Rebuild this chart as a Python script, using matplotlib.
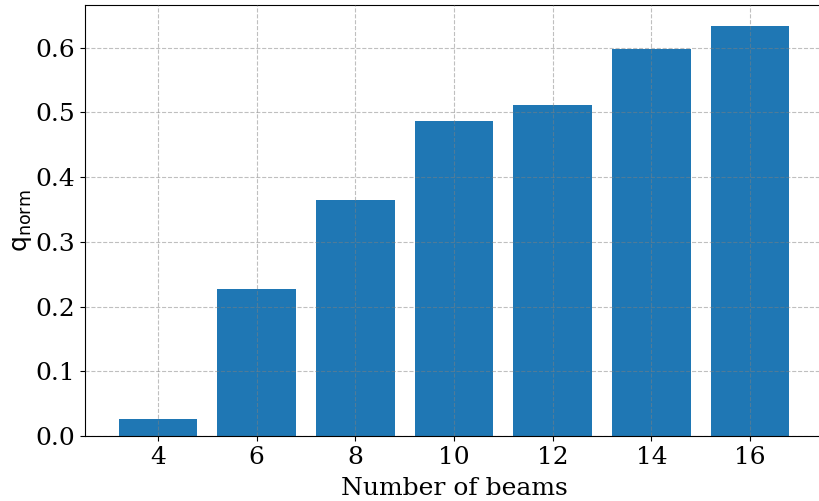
import numpy as np
import matplotlib.pyplot as plt

beams = [4, 6, 8, 10, 12, 14, 16]
q_norm = [0.026, 0.227, 0.365, 0.486, 0.512, 0.598, 0.634]

plt.rcParams['font.family'] = 'DejaVu Serif'
fig = plt.figure(figsize=(8.19, 5.01), dpi=100)
ax = fig.add_axes([85 / 819, (501 - 436) / 501, (823 - 85) / 819, (436 - 5) / 501])
ax.bar(beams, q_norm, width=1.6, color='#1f77b4')
ax.set_xticks(beams)
ax.grid(True, linestyle='--', color='gray', alpha=0.5)
ax.set_axisbelow(False)
ax.spines['right'].set_visible(False)
ax.tick_params(labelsize=18)
ax.set_xlabel('Number of beams', fontsize=18, labelpad=6)
ax.set_ylabel(r'$\mathrm{q_{norm}}$', fontsize=18, family='DejaVu Sans', labelpad=1)
plt.savefig('out.png', dpi=100)
